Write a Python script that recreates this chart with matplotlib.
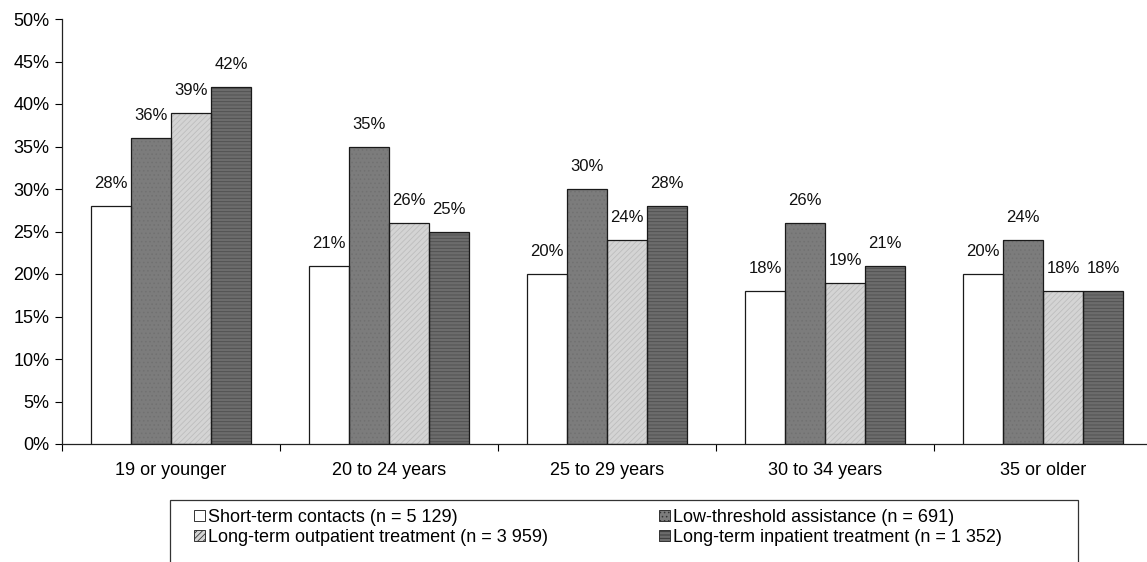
import matplotlib
matplotlib.use("Agg")
import matplotlib.pyplot as plt
from matplotlib.patches import Rectangle, Patch
from matplotlib.ticker import FuncFormatter, FixedLocator
import numpy as np

plt.rcParams['font.family'] = ['Liberation Sans', 'DejaVu Sans']

# Age groups and share of clients per treatment setting (%)
age_groups = ["19 or younger", "20 to 24 years", "25 to 29 years", "30 to 34 years", "35 or older"]
series_names = [
    "Short-term contacts (n = 5 129)",
    "Low-threshold assistance (n = 691)",
    "Long-term outpatient treatment (n = 3 959)",
    "Long-term inpatient treatment (n = 1 352)",
]
short_term = [28, 21, 20, 18, 20]
low_threshold = [36, 35, 30, 26, 24]
outpatient = [39, 26, 24, 19, 18]
inpatient = [42, 25, 28, 21, 18]
series_values = [short_term, low_threshold, outpatient, inpatient]

# Fill, hatch and hatch colour per series
face_colors = ["#ffffff", "#7c7c7c", "#d4d4d4", "#6c6c6c"]
hatches = [None, "....", "//////", "-----"]
hatch_colors = [None, "#717171", "#bdbdbd", "#4e4e4e"]

W, H = 1147, 562
fig = plt.figure(figsize=(W / 100, H / 100), dpi=100)
ax = fig.add_axes([62 / W, (H - 444) / H, 1090 / W, 425 / H])

x = np.arange(len(age_groups))
bw = 40 / 218
offsets = (np.arange(4) - 1.5) * bw

plt.rcParams['hatch.linewidth'] = 0.6
for k, vals in enumerate(series_values):
    pos = x + offsets[k]
    if hatches[k]:
        ax.bar(pos, vals, width=bw, color=face_colors[k], hatch=hatches[k],
               edgecolor=hatch_colors[k], linewidth=0, zorder=2)
        ax.bar(pos, vals, width=bw, facecolor="none", edgecolor="#1a1a1a",
               linewidth=0.9, zorder=3)
    else:
        ax.bar(pos, vals, width=bw, color=face_colors[k], edgecolor="#1a1a1a",
               linewidth=0.9, zorder=3)
    for px, v in zip(pos, vals):
        ax.annotate(f"{v}%", (px, v), xytext=(0, 10.5), textcoords="offset points",
                    ha="center", va="bottom", fontsize=12, color="#111111")

ax.set_xlim(-0.5, len(age_groups) - 0.5)
ax.set_ylim(0, 50)
ax.yaxis.set_major_locator(FixedLocator(np.arange(0, 51, 5)))
ax.yaxis.set_major_formatter(FuncFormatter(lambda v, p: f"{v:.0f}%"))
ax.tick_params(axis="y", direction="out", length=5, width=0.8, labelsize=13, pad=4)

ax.set_xticks(np.arange(-0.5, len(age_groups), 1.0))
ax.set_xticklabels([])
ax.set_xticks(x, minor=True)
ax.set_xticklabels(age_groups, minor=True, fontsize=13)
ax.tick_params(axis="x", which="major", direction="out", length=5, width=0.8)
ax.tick_params(axis="x", which="minor", length=0, pad=13)

for s in ["top", "right"]:
    ax.spines[s].set_visible(False)
for s in ["left", "bottom"]:
    ax.spines[s].set_linewidth(0.9)
    ax.spines[s].set_color("#222222")

# Legend frame (runs off the lower edge)
fig.patches.append(Rectangle((170 / W, -0.05), (1078 - 170) / W, (H - 500) / H + 0.05,
                             transform=fig.transFigure, facecolor="none",
                             edgecolor="#333333", linewidth=0.9))

handles = []
for k in range(4):
    handles.append(Patch(facecolor=face_colors[k], hatch=hatches[k],
                         edgecolor="#333333", linewidth=0.7))
order = [0, 2, 1, 3]
leg = fig.legend([handles[i] for i in order], [series_names[i] for i in order],
                 ncol=2, loc="upper left", bbox_to_anchor=(194 / W, (H - 509) / H),
                 frameon=False, fontsize=13, handlelength=0.6, handleheight=0.6,
                 handletextpad=0.15, labelspacing=0.15, columnspacing=6.2,
                 borderpad=0, borderaxespad=0)

fig.savefig("out.png", dpi=100)
